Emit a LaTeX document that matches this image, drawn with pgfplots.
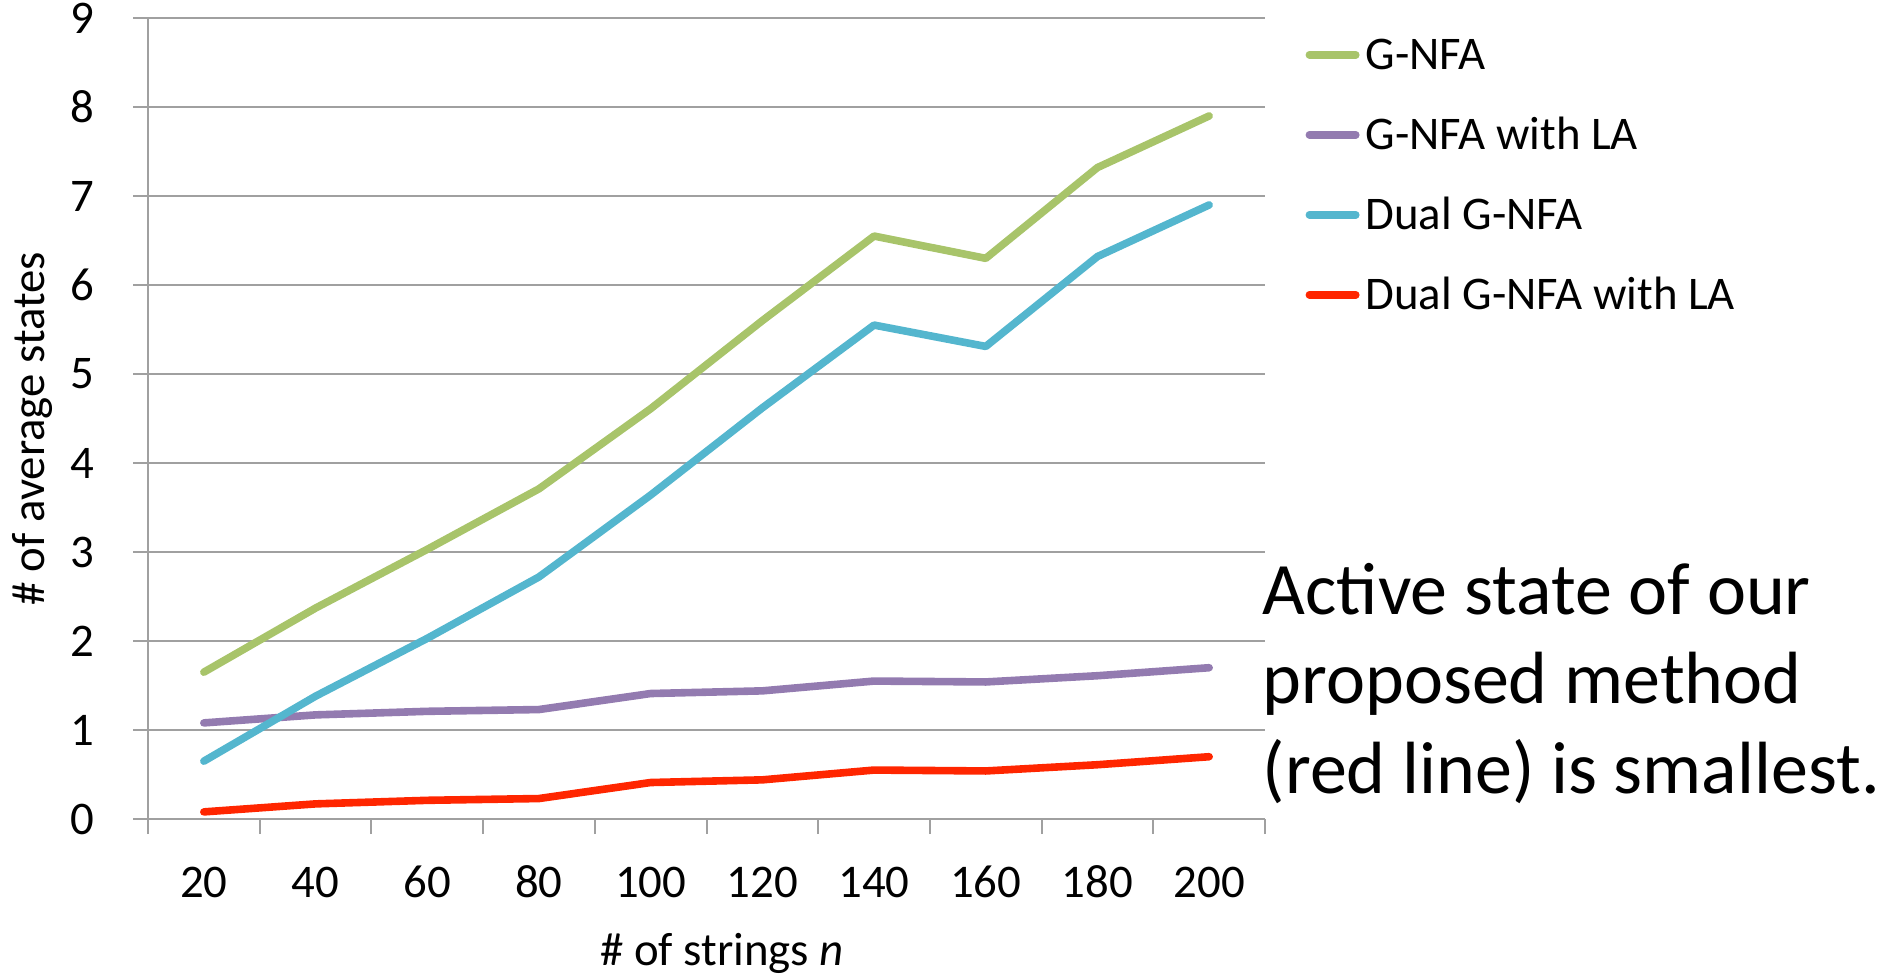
\documentclass[border=0pt]{standalone}
\usepackage{fontspec}
\setmainfont{Carlito}
\usepackage{pgfplots}
\pgfplotsset{compat=1.18}
\definecolor{cgreen}{RGB}{168,196,106}
\definecolor{cpurple}{RGB}{147,123,176}
\definecolor{ccyan}{RGB}{84,182,206}
\definecolor{cred}{RGB}{255,38,0}
\definecolor{cgrid}{RGB}{160,160,160}
\newcommand{\tf}{\fontsize{11.7}{14}\selectfont}
\begin{document}
\begin{tikzpicture}
\useasboundingbox (-37pt,-39.5pt) rectangle (434pt,204.75pt);
\begin{axis}[
  at={(0,0)}, anchor=south west,
  scale only axis, width=279.25pt, height=200.25pt,
  xmin=-0.5, xmax=9.5, ymin=0, ymax=9,
  xtick={-0.5,0.5,...,9.5},
  x tick label as interval,
  xticklabels={20,40,60,80,100,120,140,160,180,200},
  ytick={0,1,...,9},
  axis x line=bottom, axis y line=left,
  axis line style={cgrid, line width=0.5pt, -},
  ymajorgrids, grid style={cgrid, line width=0.5pt},
  tick align=outside, major tick length=3.75pt,
  tick style={cgrid, line width=0.5pt},
  /pgf/number format/assume math mode=true,
  tick label style={font=\tf},
  xticklabel style={anchor=base, inner sep=0pt, yshift=-15.75pt},
  yticklabel style={inner sep=0pt, xshift=-9.6pt},
  label style={font=\tf},
  xlabel={\# of strings \textit{n}},
  ylabel={\# of average states},
  xlabel style={at={(axis description cs:0.514,-0.1823)}, anchor=base},
  ylabel style={at={(axis description cs:-0.0931,0.487)}, anchor=base},
  legend style={at={(axis description cs:1.0356,0.9738)}, anchor=north west,
    draw=none, fill=none, inner sep=0pt, row sep=12.5pt, column sep=1.5pt,
    nodes={inner sep=0pt, text height=7.5pt, text depth=0pt, font=\tf},
    cells={anchor=west}},
  legend image code/.code={\draw[#1] (0pt,0pt) -- (11.6pt,0pt);},
  every axis plot/.append style={line width=1.9pt, line cap=round, line join=round, mark=none},
  clip=false,
]
\addplot[cgreen] coordinates {(0,1.65) (1,2.37) (2,3.03) (3,3.71) (4,4.61) (5,5.6) (6,6.55) (7,6.3) (8,7.32) (9,7.9)};
\addlegendentry{G-NFA}
\addplot[cpurple] coordinates {(0,1.08) (1,1.17) (2,1.21) (3,1.23) (4,1.41) (5,1.44) (6,1.55) (7,1.54) (8,1.61) (9,1.70)};
\addlegendentry{G-NFA with LA}
\addplot[ccyan] coordinates {(0,0.65) (1,1.38) (2,2.03) (3,2.72) (4,3.64) (5,4.62) (6,5.55) (7,5.31) (8,6.32) (9,6.9)};
\addlegendentry{Dual G-NFA}
\addplot[cred] coordinates {(0,0.08) (1,0.17) (2,0.21) (3,0.23) (4,0.41) (5,0.44) (6,0.55) (7,0.54) (8,0.61) (9,0.70)};
\addlegendentry{Dual G-NFA with LA}
\end{axis}
\begin{scope}[every node/.style={anchor=base west, inner sep=0pt, font=\fontsize{18.5}{22}\selectfont}]
\node at (278.5pt,51.25pt) {Active state of our};
\node at (278.5pt,29pt) {proposed method};
\node at (278.5pt,6.5pt) {(red line) is smallest.};
\end{scope}
\end{tikzpicture}
\end{document}
